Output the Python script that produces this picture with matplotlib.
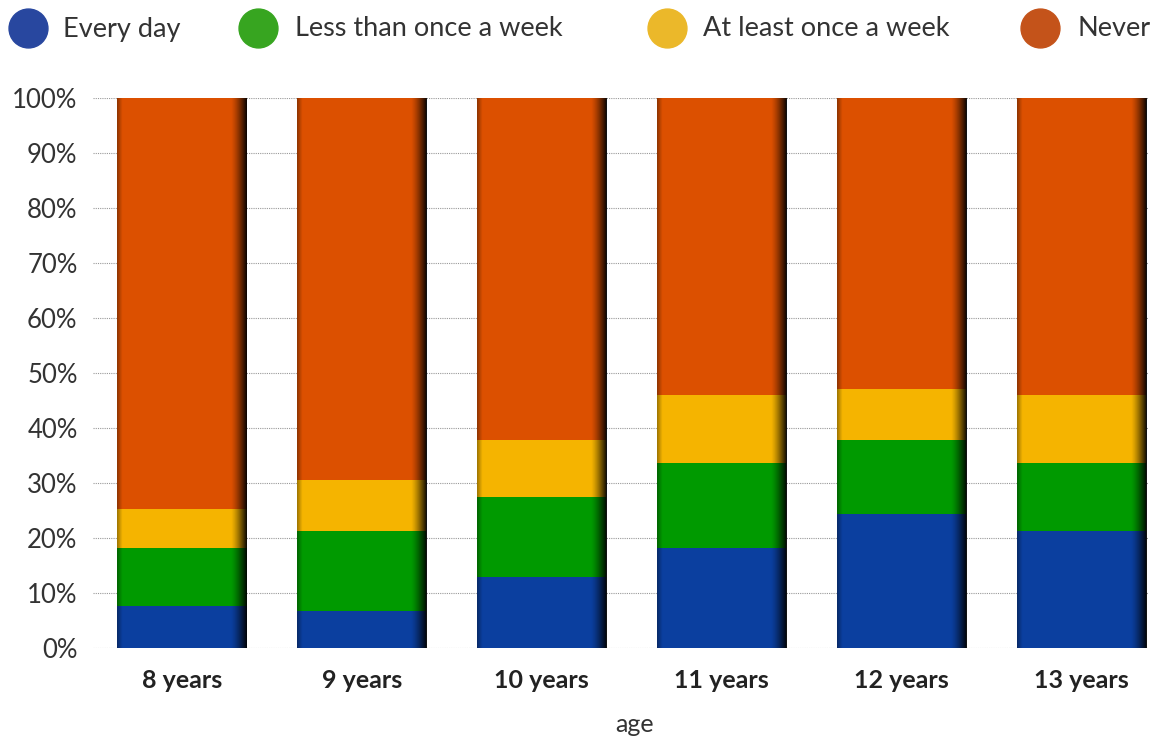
import numpy as np
import matplotlib.pyplot as plt
from matplotlib.lines import Line2D

plt.rcParams["font.family"] = ["Lato", "DejaVu Sans"]

ages = ["8 years", "9 years", "10 years", "11 years", "12 years", "13 years"]
every_day = [7.6, 6.7, 12.9, 18.2, 24.4, 21.3]
less_than_weekly = [10.6, 14.6, 14.6, 15.4, 13.4, 12.3]
at_least_weekly = [7.1, 9.2, 10.3, 12.4, 9.3, 12.4]
never = [100 - a - b - c for a, b, c in zip(every_day, less_than_weekly, at_least_weekly)]

series = [
    ("Every day", every_day, "#0b3f9f", "#28479f"),
    ("Less than once a week", less_than_weekly, "#009a00", "#37a520"),
    ("At least once a week", at_least_weekly, "#f5b400", "#ebb82a"),
    ("Never", never, "#dc5000", "#c4531a"),
]

W, H = 1161, 740
fig = plt.figure(figsize=(W / 100, H / 100), dpi=100)
ax = fig.add_axes([0.080, 0.1243, 0.910, 0.7433])

x = np.arange(len(ages))
width = 0.72
bottom = np.zeros(len(ages))
for name, vals, col, _ in series:
    ax.bar(x, vals, width, bottom=bottom, color=col, zorder=2, linewidth=0)
    bottom += np.array(vals)

# fake 3d shading on the bar edges
n = 200
t = np.linspace(0, 1, n)
alpha = np.clip((t - 0.88) / 0.12, 0, 1) ** 1.3 * 0.95 + np.clip((0.04 - t) / 0.04, 0, 1) * 0.35
shade = np.zeros((1, n, 4))
shade[..., 3] = alpha
for xi, top in zip(x, bottom):
    ax.imshow(shade, extent=(xi - width / 2, xi + width / 2, 0, top),
              aspect="auto", zorder=3, interpolation="bilinear")

ax.set_xlim(-0.494, 5.378)
ax.set_ylim(0, 100)
ax.set_yticks(range(0, 101, 10))
ax.set_yticklabels([f"{v}%" for v in range(0, 101, 10)])
ax.yaxis.grid(True, linestyle=(0, (1, 1)), color="#999999", linewidth=0.8, zorder=0)
ax.set_xticks(x)
ax.set_xticklabels(ages, fontweight="bold", fontsize=18, color="#222222")
ax.tick_params(axis="y", length=0, labelsize=18.5, labelcolor="#333333", pad=11)
ax.tick_params(axis="x", length=0, pad=15)
for s in ax.spines.values():
    s.set_visible(False)
ax.set_xlabel("age", fontsize=18, color="#333333")
ax.xaxis.set_label_coords(0.513, -0.118)

# legend row along the top
legend_circle_x = [28, 258, 667, 1040]
legend_text_x = [63, 295, 703, 1077]
for (name, _, _, lc), cx, tx in zip(series, legend_circle_x, legend_text_x):
    fig.add_artist(Line2D([cx / W], [1 - 28 / H], marker="o", markersize=28,
                          markerfacecolor=lc, markeredgecolor=lc,
                          transform=fig.transFigure))
    fig.text(tx / W, 1 - 29 / H, name, fontsize=19.5,
             color="#333333", va="center", ha="left")

fig.savefig("out.png", dpi=100)
